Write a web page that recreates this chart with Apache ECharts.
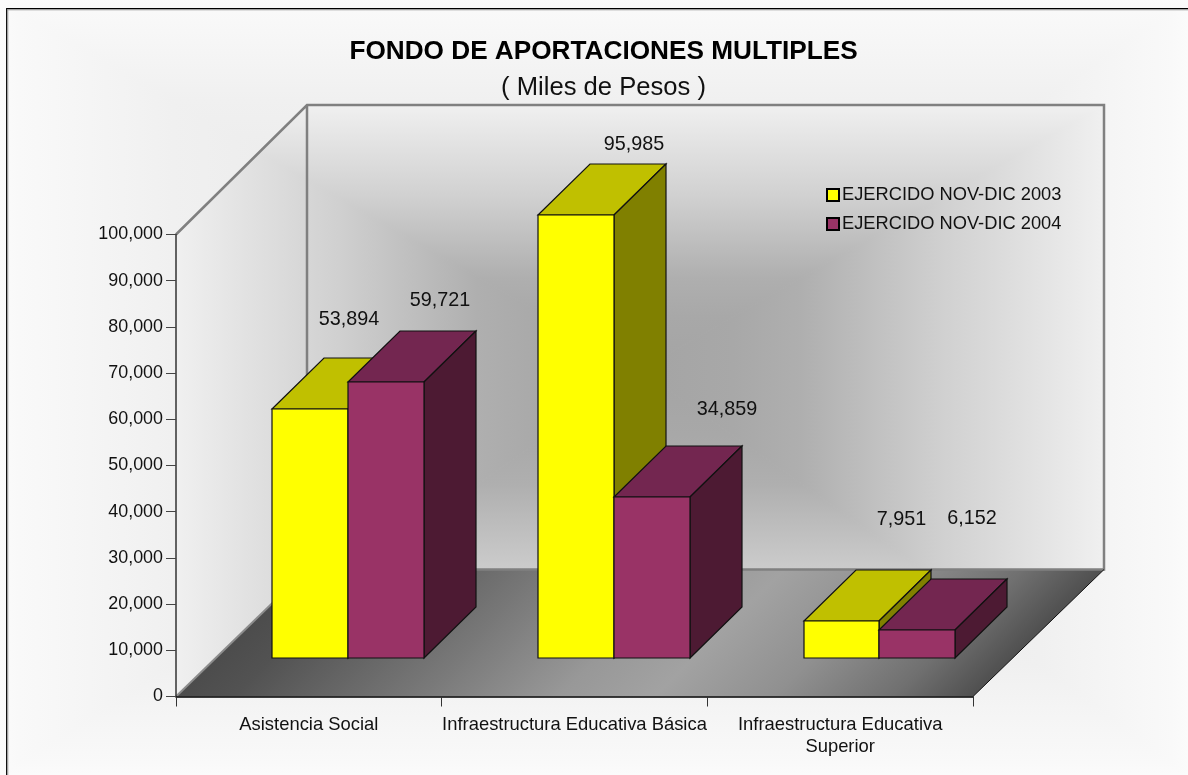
<!DOCTYPE html>
<html>
<head>
<meta charset="utf-8">
<title>Fondo de Aportaciones Multiples</title>
<script src="https://cdn.jsdelivr.net/npm/echarts@6/dist/echarts.min.js"></script>
<style>
  html, body { margin: 0; padding: 0; background: #fff; }
  #chart { width: 1188px; height: 775px; }
</style>
</head>
<body>
<div id="chart"></div>
<script>
const categories = ["Asistencia Social", "Infraestructura Educativa Básica", "Infraestructura Educativa Superior"];
const seriesNames = ["EJERCIDO NOV-DIC 2003", "EJERCIDO NOV-DIC 2004"];
const values2003 = [53894, 95985, 7951];
const values2004 = [59721, 34859, 6152];
const yTicks = [0, 10000, 20000, 30000, 40000, 50000, 60000, 70000, 80000, 90000, 100000];

// layout of the fake 3d box, in pixels
const FONT = "'Liberation Sans', Arial, sans-serif";
const DEPTH_X = 131, DEPTH_Y = 127, WALL_RISE = 129.5;
const BAR_FRONT = 0.3, BAR_BACK = 0.7;
const BAR_RATIO = 2 / 7;
// hand placed value labels, relative to the back of the bar top
const labelShift2003 = [[-13, -38], [6, -19.5], [8, -50]];
const labelShift2004 = [[2, -30], [23, -36], [3, -60]];

const FACES_2003 = { front: "#FFFF00", top: "#C0C000", side: "#808000" };
const FACES_2004 = { front: "#993366", top: "#732650", side: "#4D1A33" };

// gray level by distance from the gradient centre, 0 centre, 1 box edge
const WALL_PROFILE = [[0, 164], [0.2, 168], [0.35, 175], [0.65, 208], [0.85, 226], [1, 240]];
const PAGE_PROFILE = [[0, 225], [0.73, 240], [0.86, 245], [0.97, 249], [1, 251]];

function gray(v) { return "rgb(" + v + "," + v + "," + v + ")"; }

function ramp(x0, y0, x1, y1, stops) {
  return new echarts.graphic.LinearGradient(x0, y0, x1, y1, stops.map(function (s) {
    return { offset: s[0], color: gray(s[1]) };
  }), true);
}

// rectangular "path" gradient: four wedges meeting at a centre point
function pathGradient(cx, cy, box, profile) {
  const l = box[0], t = box[1], r = box[2], b = box[3];
  const wedges = [
    [[[cx, cy], [l, t], [l, b]], ramp(cx, 0, l, 0, profile)],
    [[[cx, cy], [r, t], [r, b]], ramp(cx, 0, r, 0, profile)],
    [[[cx, cy], [l, t], [r, t]], ramp(0, cy, 0, t, profile)],
    [[[cx, cy], [l, b], [r, b]], ramp(0, cy, 0, b, profile)]
  ];
  return wedges.map(function (w) {
    return {
      type: "polygon",
      shape: { points: w[0] },
      style: { fill: w[1], stroke: w[1], lineWidth: 1 }
    };
  });
}

function line(x1, y1, x2, y2, color, width) {
  return {
    type: "line",
    shape: { x1: x1, y1: y1, x2: x2, y2: y2 },
    style: { stroke: color, lineWidth: width }
  };
}

function renderScene(params, api) {
  const band = api.size([1, 0])[0];
  const left = api.coord([0, 0])[0] - band / 2;
  const right = left + band * categories.length;
  const base = api.coord([0, 0])[1];
  const top = api.coord([0, yTicks[yTicks.length - 1]])[1];
  const backL = left + DEPTH_X, backR = right + DEPTH_X;
  const backT = top - WALL_RISE, backB = base - DEPTH_Y;

  const page = pathGradient(640, 370, [0, 0, 1188, 775], PAGE_PROFILE);
  const wall = pathGradient(640, 370, [left, backT, backR, base], WALL_PROFILE);
  const wallClip = [[left, top], [backL, backT], [backR, backT], [backR, backB], [right, base], [left, base]];

  return {
    type: "group",
    children: [
      { type: "group", children: page },
      line(6, 8.65, 1188, 8.65, "#000", 1.3),
      line(7, 9.8, 1188, 9.8, "#999", 1),
      line(6.65, 8, 6.65, 775, "#111", 1.3),
      line(7.8, 9, 7.8, 775, "#999", 1),
      {
        type: "group",
        clipPath: { type: "polygon", shape: { points: wallClip } },
        children: wall
      },
      {
        type: "polygon",
        shape: { points: [[left, base], [right, base], [backR, backB], [backL, backB]] },
        style: {
          // iso lines run along the depth edge
          fill: ramp(left, base, left + 386, base + 398, [
            [0, 76], [0.07, 82], [0.3, 120], [0.48, 152], [0.6, 162], [0.75, 144], [0.9, 112], [1, 80]
          ])
        }
      },
      {
        type: "polyline",
        shape: { points: [[left, top], [backL, backT], [backR, backT], [backR, backB], [backL, backB], [backL, backT]] },
        style: { stroke: "#808080", lineWidth: 2.5, fill: null }
      },
      line(left, base, backL, backB, "#8c8c8c", 2),
      line(right, base, backR, backB, "#111", 1)
    ]
  };
}

function makeBarRenderer(faces, shifts) {
  return function (params, api) {
    const i = api.value(0), v = api.value(1);
    const w = api.size([1, 0])[0] * BAR_RATIO;
    const slot = params.seriesIndex - 1;
    const cx = api.coord([i, 0])[0] + BAR_FRONT * DEPTH_X;
    const x0 = Math.round(cx + (slot - 1) * w);
    const x1 = Math.round(cx + slot * w);
    const yb = Math.round(api.coord([i, 0])[1] - BAR_FRONT * DEPTH_Y);
    const yt = Math.round(yb - (api.coord([i, 0])[1] - api.coord([i, v])[1]));
    const dx = Math.round((BAR_BACK - BAR_FRONT) * DEPTH_X);
    const dy = Math.round((BAR_BACK - BAR_FRONT) * DEPTH_Y);
    const edge = { stroke: "#111", lineWidth: 1.2, lineJoin: "miter" };
    const face = function (pts, fill) {
      return { type: "polygon", shape: { points: pts }, style: Object.assign({ fill: fill }, edge) };
    };
    return {
      type: "group",
      children: [
        face([[x0, yt], [x0 + dx, yt - dy], [x1 + dx, yt - dy], [x1, yt]], faces.top),
        face([[x1, yt], [x1 + dx, yt - dy], [x1 + dx, yb - dy], [x1, yb]], faces.side),
        face([[x0, yt], [x1, yt], [x1, yb], [x0, yb]], faces.front),
        {
          type: "text",
          style: {
            text: v.toLocaleString("en-US"),
            x: (x0 + x1) / 2 + dx + shifts[i][0],
            y: yt - dy + shifts[i][1],
            fill: "#111",
            font: "19.8px " + FONT,
            align: "center",
            verticalAlign: "middle"
          }
        }
      ]
    };
  };
}

function pairs(arr) { return arr.map(function (v, i) { return [i, v]; }); }

const chart = echarts.init(document.getElementById("chart"), null, { renderer: "canvas" });
chart.setOption({
  animation: false,
  backgroundColor: "#fff",
  title: [
    {
      text: "FONDO DE APORTACIONES MULTIPLES",
      left: 598.5, top: 34, textAlign: "center",
      textStyle: { fontFamily: FONT, fontSize: 26.2, fontWeight: "bold", color: "#000" }
    },
    {
      text: "( Miles de Pesos )",
      left: 598.5, top: 70, textAlign: "center",
      textStyle: { fontFamily: FONT, fontSize: 25.6, fontWeight: "normal", color: "#111" }
    }
  ],
  legend: {
    data: seriesNames,
    orient: "vertical",
    left: 821, top: 181,
    icon: "rect",
    itemWidth: 12, itemHeight: 12, itemGap: 11,
    selectedMode: false,
    textStyle: { fontFamily: FONT, fontSize: 18.3, color: "#111", padding: [1, 0, 0, -2] }
  },
  grid: { left: 176, right: 215, top: 234.5, bottom: 78.5 },
  xAxis: {
    type: "category",
    data: categories,
    z: 5,
    axisLine: { lineStyle: { color: "#000", width: 1.5 } },
    axisTick: { show: true, length: 10, lineStyle: { color: "#333" } },
    axisLabel: {
      interval: 0, margin: 17, lineHeight: 22,
      fontFamily: FONT, fontSize: 18.4, color: "#111",
      formatter: function (v) { return v.replace(/ Superior$/, "\nSuperior"); }
    }
  },
  yAxis: {
    type: "value",
    min: yTicks[0],
    max: yTicks[yTicks.length - 1],
    interval: yTicks[1] - yTicks[0],
    z: 5,
    splitLine: { show: false },
    axisLine: { show: true, lineStyle: { color: "#333", width: 1.5 } },
    axisTick: { show: true, length: 10, lineStyle: { color: "#444" } },
    axisLabel: {
      margin: 13, fontFamily: FONT, fontSize: 17.9, color: "#111",
      formatter: function (v) { return v.toLocaleString("en-US"); }
    }
  },
  series: [
    { type: "custom", name: "scene", z: 1, silent: true, data: [[0, 0]], encode: { x: 0, y: 1 }, renderItem: renderScene },
    {
      type: "custom", name: seriesNames[0], z: 2, silent: true,
      itemStyle: { color: FACES_2003.front, borderColor: "#000", borderWidth: 1 },
      data: pairs(values2003), encode: { x: 0, y: 1 },
      renderItem: makeBarRenderer(FACES_2003, labelShift2003)
    },
    {
      type: "custom", name: seriesNames[1], z: 3, silent: true,
      itemStyle: { color: FACES_2004.front, borderColor: "#000", borderWidth: 1 },
      data: pairs(values2004), encode: { x: 0, y: 1 },
      renderItem: makeBarRenderer(FACES_2004, labelShift2004)
    }
  ]
});
</script>
</body>
</html>
